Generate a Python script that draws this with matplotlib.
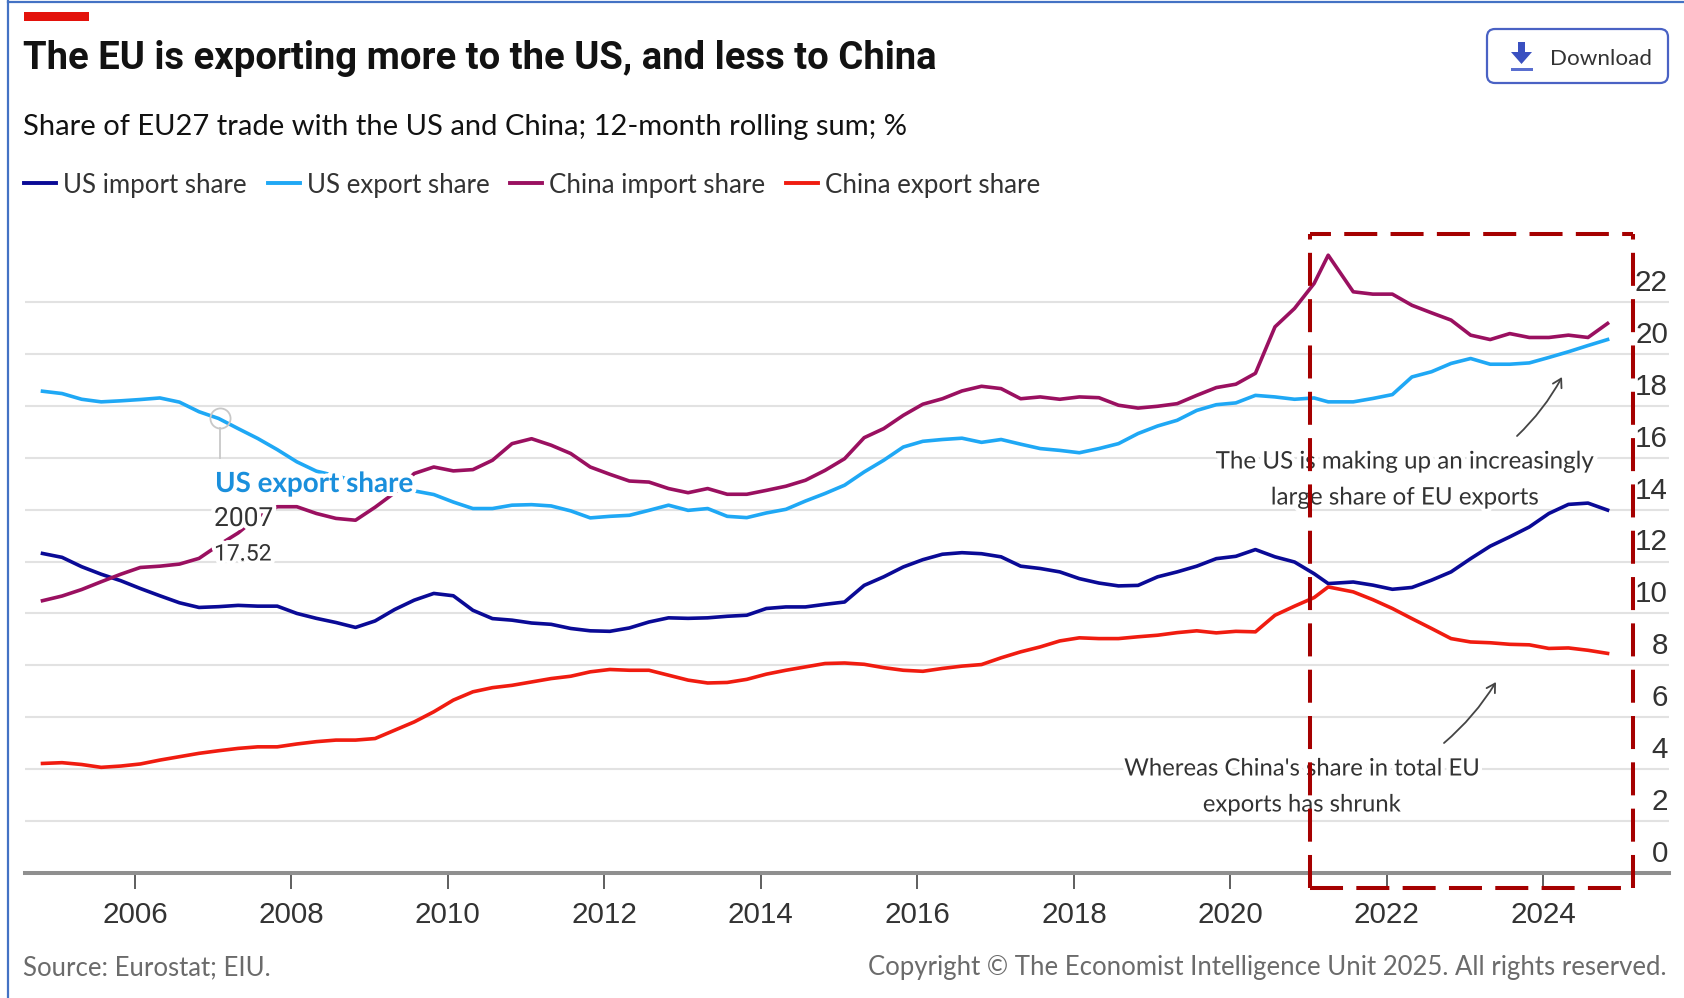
import matplotlib
matplotlib.use("Agg")
import matplotlib.pyplot as plt
import matplotlib.patheffects as pe
from matplotlib.patches import FancyBboxPatch, Polygon, Rectangle
from matplotlib.transforms import ScaledTranslation
import numpy as np

NARROW = ["Lato", "Roboto", "DejaVu Sans"]
REGULAR = ["Liberation Sans", "DejaVu Sans"]

# quarterly readings, Nov 2004 to Nov 2024 (one point moved onto the 2021 peak)
dates = 2004.82 + 0.25 * np.arange(81)
dates[66] = 2021.25

us_import = [
    12.31, 12.16, 11.80, 11.51, 11.26, 10.96, 10.68, 10.41, 10.23, 10.26,
    10.31, 10.28, 10.28, 10.00, 9.81, 9.65, 9.46, 9.71, 10.15, 10.51,
    10.77, 10.68, 10.12, 9.80, 9.74, 9.63, 9.58, 9.42, 9.33, 9.31,
    9.44, 9.67, 9.83, 9.81, 9.83, 9.89, 9.93, 10.19, 10.25, 10.25,
    10.35, 10.44, 11.08, 11.41, 11.79, 12.07, 12.28, 12.34, 12.30, 12.18,
    11.82, 11.73, 11.60, 11.34, 11.17, 11.06, 11.08, 11.41, 11.60, 11.82,
    12.11, 12.20, 12.46, 12.18, 11.98, 11.53, 11.15, 11.21, 11.09, 10.93,
    11.00, 11.28, 11.60, 12.11, 12.59, 12.95, 13.33, 13.85, 14.20, 14.25,
    13.98,
]
us_export = [
    18.56, 18.47, 18.25, 18.15, 18.19, 18.24, 18.30, 18.14, 17.77, 17.51,
    17.12, 16.74, 16.31, 15.84, 15.48, 15.30, 15.10, 15.00, 14.85, 14.72,
    14.58, 14.29, 14.04, 14.04, 14.17, 14.19, 14.14, 13.95, 13.68, 13.74,
    13.78, 13.97, 14.17, 13.97, 14.04, 13.74, 13.69, 13.87, 14.01, 14.33,
    14.62, 14.94, 15.45, 15.90, 16.41, 16.63, 16.70, 16.75, 16.59, 16.70,
    16.52, 16.35, 16.28, 16.19, 16.35, 16.54, 16.93, 17.22, 17.44, 17.82,
    18.04, 18.11, 18.40, 18.34, 18.25, 18.30, 18.15, 18.15, 18.28, 18.43,
    19.11, 19.31, 19.63, 19.82, 19.60, 19.60, 19.65, 19.86, 20.08, 20.32,
    20.55,
]
china_import = [
    10.49, 10.67, 10.92, 11.22, 11.51, 11.77, 11.82, 11.90, 12.12, 12.63,
    13.10, 13.72, 14.11, 14.11, 13.85, 13.66, 13.59, 14.09, 14.65, 15.39,
    15.64, 15.49, 15.54, 15.90, 16.54, 16.73, 16.48, 16.16, 15.64, 15.36,
    15.10, 15.06, 14.81, 14.65, 14.81, 14.59, 14.59, 14.74, 14.90, 15.13,
    15.51, 15.96, 16.77, 17.12, 17.63, 18.06, 18.27, 18.57, 18.75, 18.66,
    18.27, 18.34, 18.25, 18.34, 18.31, 18.02, 17.91, 17.98, 18.08, 18.40,
    18.70, 18.83, 19.25, 21.04, 21.75, 22.71, 23.80, 22.39, 22.30, 22.30,
    21.87, 21.58, 21.30, 20.72, 20.55, 20.78, 20.63, 20.63, 20.72, 20.63,
    21.17,
]
china_export = [
    4.22, 4.25, 4.18, 4.07, 4.12, 4.20, 4.35, 4.48, 4.61, 4.71,
    4.80, 4.86, 4.86, 4.97, 5.06, 5.12, 5.12, 5.18, 5.50, 5.82,
    6.21, 6.66, 6.98, 7.14, 7.23, 7.36, 7.49, 7.58, 7.75, 7.84,
    7.81, 7.81, 7.62, 7.43, 7.32, 7.34, 7.46, 7.66, 7.81, 7.94,
    8.07, 8.09, 8.04, 7.91, 7.81, 7.77, 7.88, 7.97, 8.03, 8.29,
    8.52, 8.71, 8.94, 9.06, 9.03, 9.03, 9.10, 9.16, 9.26, 9.33,
    9.25, 9.31, 9.29, 9.93, 10.28, 10.61, 11.02, 10.83, 10.53, 10.19,
    9.80, 9.42, 9.03, 8.90, 8.87, 8.81, 8.79, 8.65, 8.67, 8.58,
    8.46,
]

x_ticks = [2006, 2008, 2010, 2012, 2014, 2016, 2018, 2020, 2022, 2024]
y_ticks = [0, 2, 4, 6, 8, 10, 12, 14, 16, 18, 20, 22]
hover_year = 2007.09
hover_value = 17.52

fig = plt.figure(figsize=(16.84, 9.98), dpi=100)
fig.patch.set_facecolor("white")

# plot area: baseline at y=873px, 22 gridline at y=302px
ax = fig.add_axes([24.5 / 1684, 1 - 873 / 998, (1668.6 - 24.5) / 1684, 623 / 998])
ax.set_xlim(2004.59, 2025.60)
ax.set_ylim(0, 24)
ax.set_facecolor("none")

lines = []
lines += ax.plot(dates, us_import, color="#0a0a96", lw=2.6, label="US import share")
lines += ax.plot(dates, us_export, color="#1fa8f5", lw=2.6, label="US export share")
lines += ax.plot(dates, china_import, color="#9a1060", lw=2.6, label="China import share")
lines += ax.plot(dates, china_export, color="#f01c10", lw=2.6, label="China export share")

ax.grid(axis="y", color="#e2e2e2", lw=1.5)
ax.set_axisbelow(True)
for side in ["top", "left", "right"]:
    ax.spines[side].set_visible(False)
ax.spines["bottom"].set_color("#8f8f8f")
ax.spines["bottom"].set_linewidth(2.9)

ax.set_xticks(x_ticks)
ax.tick_params(axis="x", length=11.5, width=1.1, color="#333333", pad=9,
               labelsize=21.3, labelcolor="#333333")
ax.set_yticks(y_ticks)
ax.tick_params(axis="y", left=False, right=False, labelleft=False, labelright=True,
               pad=-4, labelsize=21.3, labelcolor="#333333")
lift = ScaledTranslation(0, 22 / 100, fig.dpi_scale_trans)
for lab in ax.get_yticklabels():
    lab.set_ha("right")
    lab.set_transform(lab.get_transform() + lift)
for lab in ax.get_xticklabels() + ax.get_yticklabels():
    lab.set_family(REGULAR)

# hover marker
ax.plot([hover_year], [hover_value], "o", ms=14.5, mfc="none", mec="#c8c8c8", mew=1.3)
ax.plot([hover_year, hover_year], [15.98, 17.15], color="#c8c8c8", lw=1.3)

fig.legend(handles=lines, loc="center left", bbox_to_anchor=(24 / 1684, 1 - 185 / 998),
           ncol=4, frameon=False, borderpad=0, borderaxespad=0, handlelength=1.24,
           handletextpad=0.27, columnspacing=0.81,
           prop={"family": NARROW, "size": 18.6}, labelcolor="#333333")
for line in fig.legends[0].get_lines():
    line.set_linewidth(2.8)

# everything pasted over the chart, in reference pixels
over = fig.add_axes([0, 0, 1, 1], zorder=5)
over.set_xlim(0, 1684)
over.set_ylim(998, 0)
over.axis("off")
over.patch.set_visible(False)

halo = [pe.withStroke(linewidth=6, foreground="white")]

over.add_patch(Rectangle((23.5, 12), 65, 9, color="#e3120b", lw=0))
over.plot([7.5, 7.5], [0, 998], color="#4472c4", lw=1.6)
over.plot([7.5, 1684], [1.5, 1.5], color="#4472c4", lw=1.6)

over.text(23, 58, "The EU is exporting more to the US, and less to China", family=["Roboto"],
          fontsize=27.5, fontweight="bold", color="#121212", va="center")
over.text(23, 127, "Share of EU27 trade with the US and China; 12-month rolling sum; %",
          family=NARROW, fontsize=21, color="#121212", va="center")

# download button
over.add_patch(FancyBboxPatch((1495, 37), 165, 38, boxstyle="round,pad=8,rounding_size=8",
                              fc="white", ec="#4a62c4", lw=1.6))
over.add_patch(Polygon([(1518, 42), (1525, 42), (1525, 52), (1532, 52), (1521.5, 64),
                        (1511, 52), (1518, 52)], color="#3a50c0", lw=0))
over.add_patch(Rectangle((1511, 67.5), 22, 3, color="#5a6fd0", lw=0))
over.text(1550, 59, "Download", family=NARROW, fontsize=16.1, color="#333333", va="center")

# hover label
over.text(215, 484, "US export share", family=NARROW, fontsize=20, fontweight="bold",
          color="#1a8fdc", va="center", path_effects=halo)
over.text(214, 519, "2007", family=["Roboto"], fontsize=19, color="#333333", va="center",
          path_effects=halo)
over.text(214, 554, "17.52", family=["Roboto"], fontsize=16.5, color="#333333", va="center",
          path_effects=halo)

# callouts
over.text(1404.5, 462, "The US is making up an increasingly", family=NARROW, fontsize=17.4,
          color="#333333", ha="center", va="center", path_effects=halo)
over.text(1404.5, 498, "large share of EU exports", family=NARROW, fontsize=17.4,
          color="#333333", ha="center", va="center", path_effects=halo)
over.text(1301.5, 769, "Whereas China's share in total EU", family=NARROW, fontsize=17.2,
          color="#333333", ha="center", va="center", path_effects=halo)
over.text(1301.5, 805, "exports has shrunk", family=NARROW, fontsize=17.2,
          color="#333333", ha="center", va="center", path_effects=halo)
over.annotate("", xy=(1562, 377), xytext=(1517, 436),
              arrowprops=dict(arrowstyle="->,head_length=0.6,head_width=0.35", color="#444444",
                              lw=1.3, connectionstyle="arc3,rad=0.08", shrinkA=0, shrinkB=0))
over.annotate("", xy=(1496, 682), xytext=(1444, 743),
              arrowprops=dict(arrowstyle="->,head_length=0.6,head_width=0.35", color="#444444",
                              lw=1.3, connectionstyle="arc3,rad=0.08", shrinkA=0, shrinkB=0))

# dashed box, each side starts its dash pattern at its own corner
box_style = dict(color="#a50000", lw=2.9, dash_capstyle="butt", zorder=6)
box_l, box_r, box_t, box_b = 1310, 1633, 234, 888
over.plot([box_l, box_r], [box_b, box_b], ls=(0, (8.2, 3.3)), **box_style)
over.plot([box_r, box_r], [box_b, box_t], ls=(0, (8.2, 3.3)), **box_style)
over.plot([box_l, box_l], [box_b, box_t], ls=(0, (8.2, 3.3)), **box_style)
over.plot([box_l, box_r], [box_t, box_t], ls=(3.0, (8.2, 3.3)), **box_style)

# footer
over.text(23, 968, "Source: Eurostat; EIU.", family=NARROW, fontsize=18.5, color="#6b6b6b",
          va="center")
over.text(1667, 968, "Copyright © The Economist Intelligence Unit 2025. All rights reserved.",
          family=NARROW, fontsize=18.5, color="#6b6b6b", ha="right", va="center")

fig.savefig("out.png", dpi=100)
